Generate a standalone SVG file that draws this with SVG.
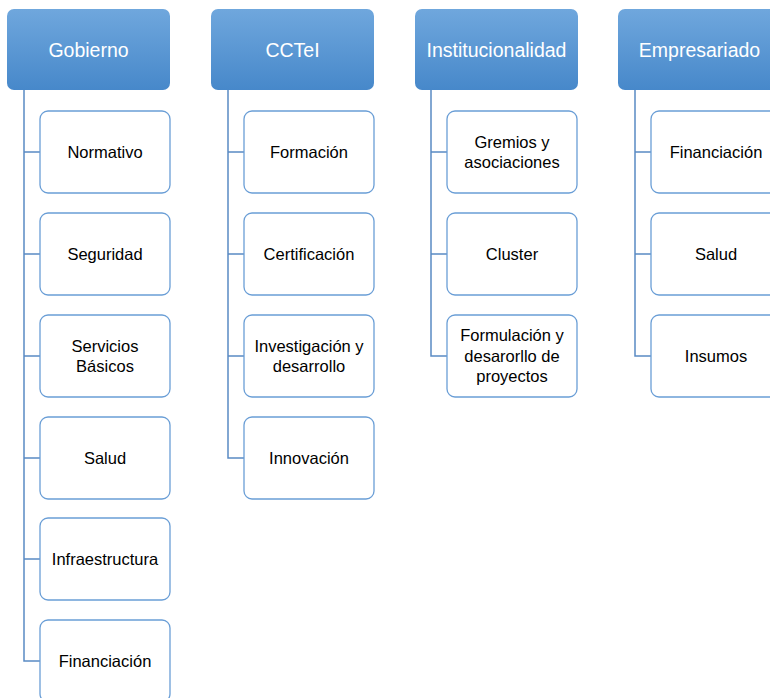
<svg xmlns="http://www.w3.org/2000/svg" width="770" height="698" viewBox="0 0 770 698">
<defs>
<linearGradient id="hg" x1="0" y1="0" x2="0" y2="1">
<stop offset="0" stop-color="#6fa7dd"/>
<stop offset="1" stop-color="#4788ca"/>
</linearGradient>
<style>
.hd{fill:url(#hg);}
.ht{fill:#ffffff;font-family:"Liberation Sans",Arial,sans-serif;font-size:19.5px;text-anchor:middle;dominant-baseline:central;}
.bx{fill:#ffffff;stroke:#6a9ed6;stroke-width:1.3;}
.bt{fill:#000000;font-family:"Liberation Sans",Arial,sans-serif;font-size:16.5px;text-anchor:middle;dominant-baseline:central;}
.cn{fill:none;stroke:#5a8bc4;stroke-width:1.5;}
</style>
</defs>
<rect width="770" height="698" fill="#ffffff"/>
<g id="connectors">
<path class="cn" d="M24 90V661H40M24 152H40M24 254H40M24 356H40M24 458H40M24 559H40"/>
<path class="cn" d="M228 90V458H244M228 152H244M228 254H244M228 356H244"/>
<path class="cn" d="M431 90V356H447M431 152H447M431 254H447"/>
<path class="cn" d="M635 90V356H651M635 152H651M635 254H651"/>
</g>
<g id="gobierno"><rect class="hd" x="7" y="9" width="163" height="81" rx="7"/><text class="ht" x="88.5" y="50">Gobierno</text></g>
<g id="cctei"><rect class="hd" x="211" y="9" width="163" height="81" rx="7"/><text class="ht" x="292.5" y="50">CCTeI</text></g>
<g id="institucionalidad"><rect class="hd" x="415" y="9" width="163" height="81" rx="7"/><text class="ht" x="496.5" y="50">Institucionalidad</text></g>
<g id="empresariado"><rect class="hd" x="618" y="9" width="163" height="81" rx="7"/><text class="ht" x="699.5" y="50">Empresariado</text></g>

<g id="g-normativo"><rect class="bx" x="40" y="111" width="130" height="82" rx="8"/><text class="bt" x="105" y="152">Normativo</text></g>
<g id="g-seguridad"><rect class="bx" x="40" y="213" width="130" height="82" rx="8"/><text class="bt" x="105" y="254">Seguridad</text></g>
<g id="g-servicios"><rect class="bx" x="40" y="315" width="130" height="82" rx="8"/><text class="bt" x="105" y="346">Servicios</text><text class="bt" x="105" y="366">Básicos</text></g>
<g id="g-salud"><rect class="bx" x="40" y="417" width="130" height="82" rx="8"/><text class="bt" x="105" y="458">Salud</text></g>
<g id="g-infra"><rect class="bx" x="40" y="518" width="130" height="82" rx="8"/><text class="bt" x="105" y="559">Infraestructura</text></g>
<g id="g-financiacion"><rect class="bx" x="40" y="620" width="130" height="82" rx="8"/><text class="bt" x="105" y="661">Financiación</text></g>

<g id="c-formacion"><rect class="bx" x="244" y="111" width="130" height="82" rx="8"/><text class="bt" x="309" y="152">Formación</text></g>
<g id="c-certificacion"><rect class="bx" x="244" y="213" width="130" height="82" rx="8"/><text class="bt" x="309" y="254">Certificación</text></g>
<g id="c-investigacion"><rect class="bx" x="244" y="315" width="130" height="82" rx="8"/><text class="bt" x="309" y="346">Investigación y</text><text class="bt" x="309" y="366">desarrollo</text></g>
<g id="c-innovacion"><rect class="bx" x="244" y="417" width="130" height="82" rx="8"/><text class="bt" x="309" y="458">Innovación</text></g>

<g id="i-gremios"><rect class="bx" x="447" y="111" width="130" height="82" rx="8"/><text class="bt" x="512" y="142">Gremios y</text><text class="bt" x="512" y="162">asociaciones</text></g>
<g id="i-cluster"><rect class="bx" x="447" y="213" width="130" height="82" rx="8"/><text class="bt" x="512" y="254">Cluster</text></g>
<g id="i-formulacion"><rect class="bx" x="447" y="315" width="130" height="82" rx="8"/><text class="bt" x="512" y="335">Formulación y</text><text class="bt" x="512" y="356">desarorllo de</text><text class="bt" x="512" y="376">proyectos</text></g>

<g id="e-financiacion"><rect class="bx" x="651" y="111" width="130" height="82" rx="8"/><text class="bt" x="716" y="152">Financiación</text></g>
<g id="e-salud"><rect class="bx" x="651" y="213" width="130" height="82" rx="8"/><text class="bt" x="716" y="254">Salud</text></g>
<g id="e-insumos"><rect class="bx" x="651" y="315" width="130" height="82" rx="8"/><text class="bt" x="716" y="356">Insumos</text></g>
</svg>
